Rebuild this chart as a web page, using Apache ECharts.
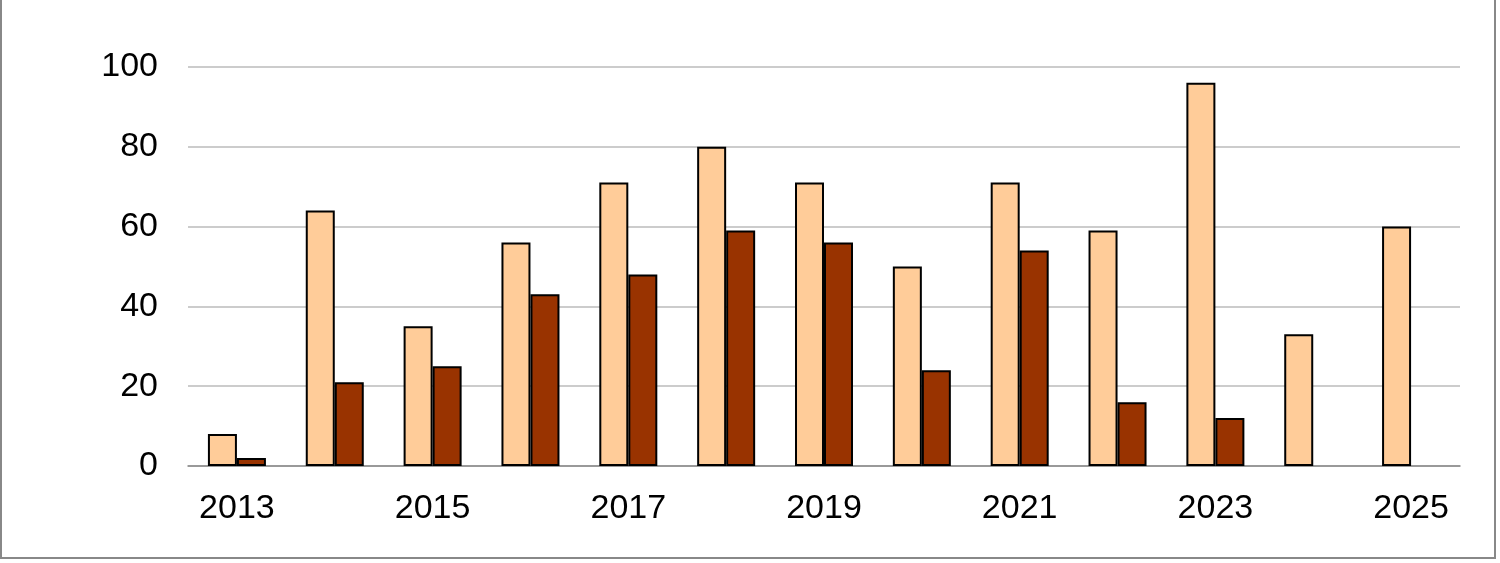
<!DOCTYPE html>
<html>
<head>
<meta charset="utf-8">
<script src="https://cdn.jsdelivr.net/npm/echarts@6/dist/echarts.min.js"></script>
<style>
  html, body { margin: 0; padding: 0; background: #fff; }
  #frame { position: absolute; left: 0; top: -4px; width: 1496px; height: 563px; border: 2px solid #888; box-sizing: border-box; }
  #chart { position: absolute; left: 0; top: 0; width: 1500px; height: 563px; }
</style>
</head>
<body>
<div id="frame"></div>
<div id="chart"></div>
<script>
    "use strict";
    var years = ['2013', '2014', '2015', '2016', '2017', '2018', '2019', '2020', '2021', '2022', '2023', '2024', '2025'];
    var seriesA = [8, 64, 35, 56, 71, 80, 71, 50, 71, 59, 96, 33, 60];
    var seriesB = [2, 21, 25, 43, 48, 59, 56, 24, 54, 16, 12, null, null];
    var yTicks = [0, 20, 40, 60, 80, 100, 120];

    var chart = echarts.init(document.getElementById('chart'));
    var option = {
        animation: false,
        grid: { left: 188, right: 40, top: -13, bottom: 97, outerBoundsMode: 'none', containLabel: false },
        xAxis: {
            type: 'category',
            data: years,
            axisLine: { lineStyle: { color: '#888', width: 1.5 } },
            axisTick: { show: false },
            axisLabel: { color: '#000', fontSize: 34, fontFamily: 'Liberation Sans', margin: 26 }
        },
        yAxis: {
            type: 'value',
            min: yTicks[0],
            max: yTicks[yTicks.length - 1],
            interval: 20,
            axisLine: { show: false },
            axisTick: { show: false },
            splitLine: { lineStyle: { color: '#bbb', width: 1.5 } },
            axisLabel: { color: '#000', fontSize: 34, fontFamily: 'Liberation Sans', margin: 30 }
        },
        series: [{
            name: 'A',
            type: 'bar',
            data: seriesA,
            barWidth: 29,
            barGap: '0%',
            itemStyle: { color: '#ffcc99', borderColor: '#000', borderWidth: 2 }
        }, {
            name: 'B',
            type: 'bar',
            data: seriesB,
            barWidth: 29,
            itemStyle: { color: '#993300', borderColor: '#000', borderWidth: 2 }
        }]
    };
    chart.setOption(option);
</script>
</body>
</html>
